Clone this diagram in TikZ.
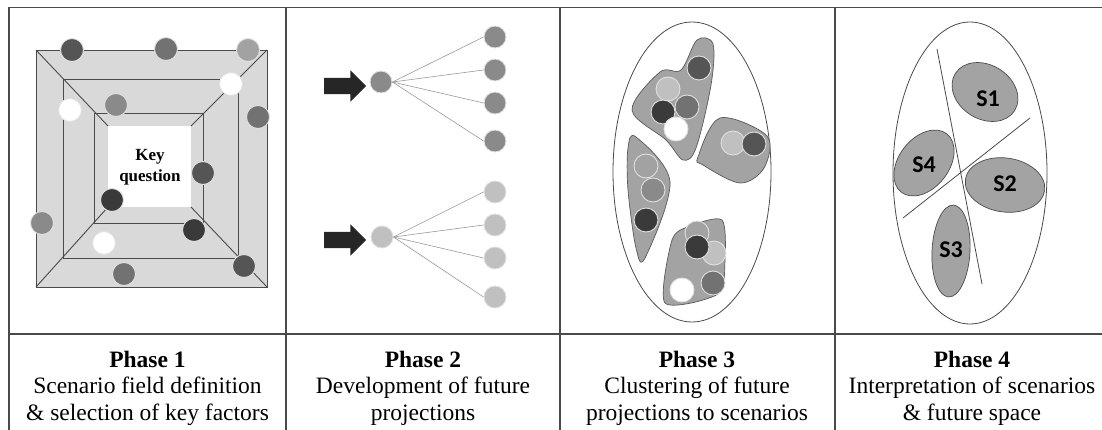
\documentclass[tikz,border=0pt]{standalone}
\usepackage{fontspec}
\setmainfont{Liberation Serif}
\newfontfamily\scenfont{Carlito}
\usetikzlibrary{shapes.arrows, shapes.geometric}

\definecolor{gA}{HTML}{3A3A3A}
\definecolor{gB}{HTML}{555555}
\definecolor{gC}{HTML}{727272}
\definecolor{gD}{HTML}{8A8A8A}
\definecolor{gE}{HTML}{A2A2A2}
\definecolor{gF}{HTML}{C0C0C0}
\definecolor{frameg}{HTML}{D9D9D9}
\definecolor{blobg}{HTML}{A3A3A3}
\definecolor{rule}{HTML}{4A4A4A}

\begin{document}
\begin{tikzpicture}[x=1pt, y=-1pt,
    dot/.style={circle, draw=white!88!black, line width=0.9pt, minimum size=23pt, inner sep=0pt},
    push/.style={single arrow, fill=black!85, minimum height=42pt, minimum width=31pt,
      single arrow head extend=7.5pt, inner xsep=0pt, inner ysep=8pt},
    link/.style={draw=gray!80, line width=0.6pt},
    blob/.style={draw=gray!70!black, fill=blobg, line width=0.7pt},
    scen/.style={draw=gray!60!black, fill=blobg, line width=0.7pt},
    slab/.style={font=\scenfont\bfseries\fontsize{24}{26}\selectfont},
    phase/.style={align=center, font=\fontsize{23.5}{26.5}\selectfont}]
\useasboundingbox (0,0) rectangle (1102,430);

% Table grid
\draw[rule, line width=1.4pt] (9,7.5) -- (1110,7.5);
\draw[rule, line width=1.1pt] (9,334) -- (1110,334);
\foreach \xx in {9,286,560,835}
  \draw[rule, line width=1.1pt] (\xx,7.5) -- (\xx,432);

% Phase 1: scenario field
\fill[frameg] (36,50) rectangle (267,287);
\fill[white] (108,126) rectangle (191,207);
\draw[rule, line width=0.9pt] (36,50) rectangle (267,287);
\draw[rule, line width=0.9pt] (63,79) rectangle (238,258);
\draw[rule, line width=0.9pt] (94,113) rectangle (203,223);
\draw[rule, line width=0.9pt] (36,50) -- (108,126);
\draw[rule, line width=0.9pt] (267,50) -- (191,126);
\draw[rule, line width=0.9pt] (36,287) -- (108,207);
\draw[rule, line width=0.9pt] (267,287) -- (191,207);
\node[align=center, font=\bfseries\fontsize{17}{21}\selectfont] (key) at (150,167) {Key\\question};

\node[dot, fill=gB] (f1) at (72,50) {};
\node[dot, fill=gC] (f2) at (166,49) {};
\node[dot, fill=gE] (f3) at (248,50) {};
\node[dot, fill=white] (f4) at (231,84) {};
\node[dot, fill=white] (f5) at (70,110) {};
\node[dot, fill=gD] (f6) at (116,105) {};
\node[dot, fill=gC] (f7) at (258,117) {};
\node[dot, fill=gB] (f8) at (203,173) {};
\node[dot, fill=gA] (f9) at (112,200) {};
\node[dot, fill=gD] (f10) at (42,223) {};
\node[dot, fill=gA] (f11) at (194,230) {};
\node[dot, fill=white] (f12) at (104,243) {};
\node[dot, fill=gB] (f13) at (244,266) {};
\node[dot, fill=gC] (f14) at (124,274) {};

% Phase 2: future projections
\node[push] (arr1) at (341,86) {};
\node[push] (arr2) at (341,240) {};

\node[dot, fill=gD, minimum size=22pt] (src1) at (381,82) {};
\node[dot, fill=gF, minimum size=22pt] (src2) at (382,237) {};
\foreach \yy [count=\i] in {37,70,103,141}
  \node[dot, fill=gD, minimum size=22pt] (up\i) at (495,\yy) {};
\foreach \yy [count=\i] in {192,225,258,297}
  \node[dot, fill=gF, minimum size=22pt] (lo\i) at (495,\yy) {};
\foreach \i in {1,...,4} {
  \draw[link] (src1.east) -- (up\i.west);
  \draw[link] (src2.east) -- (lo\i.west);
}

% Phase 3: clustering
\node[draw=rule, ellipse, line width=0.8pt, minimum width=158pt, minimum height=300pt] (space3) at (692,172) {};
\draw[blob] plot[smooth cycle, tension=0.55] coordinates {(632,110) (660,72) (681,70) (697,40) (713,44) (711,85) (696,148) (683,160) (666,140)};
\draw[blob] plot[smooth cycle, tension=0.55] coordinates {(698,157) (720,118) (767,136) (764,168) (740,183) (703,165)};
\draw[blob] plot[smooth cycle, tension=0.55] coordinates {(628,148) (636,137) (670,182) (645,258) (636,248) (628,190)};
\draw[blob] plot[smooth cycle, tension=0.45] coordinates {(665,303) (672,240) (690,226) (722,220) (725,260) (718,294)};

\node[dot, fill=gB, minimum size=24pt] (a1) at (699,68) {};
\node[dot, fill=gF, minimum size=24pt] (a2) at (668,89) {};
\node[dot, fill=gC, minimum size=24pt] (a3) at (687,107) {};
\node[dot, fill=gA, minimum size=24pt] (a4) at (663,112) {};
\node[dot, fill=white, minimum size=24pt] (a5) at (676,129) {};
\node[dot, fill=gF, minimum size=24pt] (b1) at (733,143) {};
\node[dot, fill=gB, minimum size=24pt] (b2) at (754,144) {};
\node[dot, fill=gE, minimum size=24pt] (c1) at (646,166) {};
\node[dot, fill=gD, minimum size=24pt] (c2) at (653,190) {};
\node[dot, fill=gA, minimum size=24pt] (c3) at (646,220) {};
\node[dot, fill=gE, minimum size=24pt] (d1) at (697,233) {};
\node[dot, fill=gF, minimum size=24pt] (d2) at (714,253) {};
\node[dot, fill=gA, minimum size=24pt] (d3) at (697,247) {};
\node[dot, fill=gC, minimum size=24pt] (d4) at (713,283) {};
\node[dot, fill=white, minimum size=24pt] (d5) at (682,290) {};

% Phase 4: scenarios and future space
\node[draw=rule, ellipse, line width=0.8pt, minimum width=154pt, minimum height=302pt] (space4) at (970,173) {};
\draw[scen, rotate around={-32:(985,92)}] (985,92) ellipse (35pt and 27pt);
\draw[scen, rotate around={-8:(1005,185)}] (1005,185) ellipse (40pt and 27pt);
\draw[scen, rotate around={-3:(951,251)}] (951,251) ellipse (19pt and 46pt);
\draw[scen, rotate around={52:(924,163)}] (924,163) ellipse (37pt and 25pt);
\coordinate (cutA1) at (937,49);
\coordinate (cutA2) at (982,284);
\coordinate (cutB1) at (903,218);
\coordinate (cutB2) at (1030,118);
\draw[rule, line width=0.8pt] (cutA1) -- (cutA2);
\draw[rule, line width=0.8pt] (cutB1) -- (cutB2);
\node[slab] (s1) at (988,99) {S1};
\node[slab] (s2) at (1005,184) {S2};
\node[slab] (s3) at (951,250) {S3};
\node[slab] (s4) at (924,165) {S4};

% Captions
\node[phase] (ph1) at (147.5,388) {\textbf{Phase 1}\\Scenario field definition\\\& selection of key factors};
\node[phase] (ph2) at (423,388) {\textbf{Phase 2}\\Development of future\\projections};
\node[phase] (ph3) at (697,388) {\textbf{Phase 3}\\Clustering of future\\projections to scenarios};
\node[phase] (ph4) at (972,388) {\textbf{Phase 4}\\Interpretation of scenarios\\\& future space};
\end{tikzpicture}
\end{document}
